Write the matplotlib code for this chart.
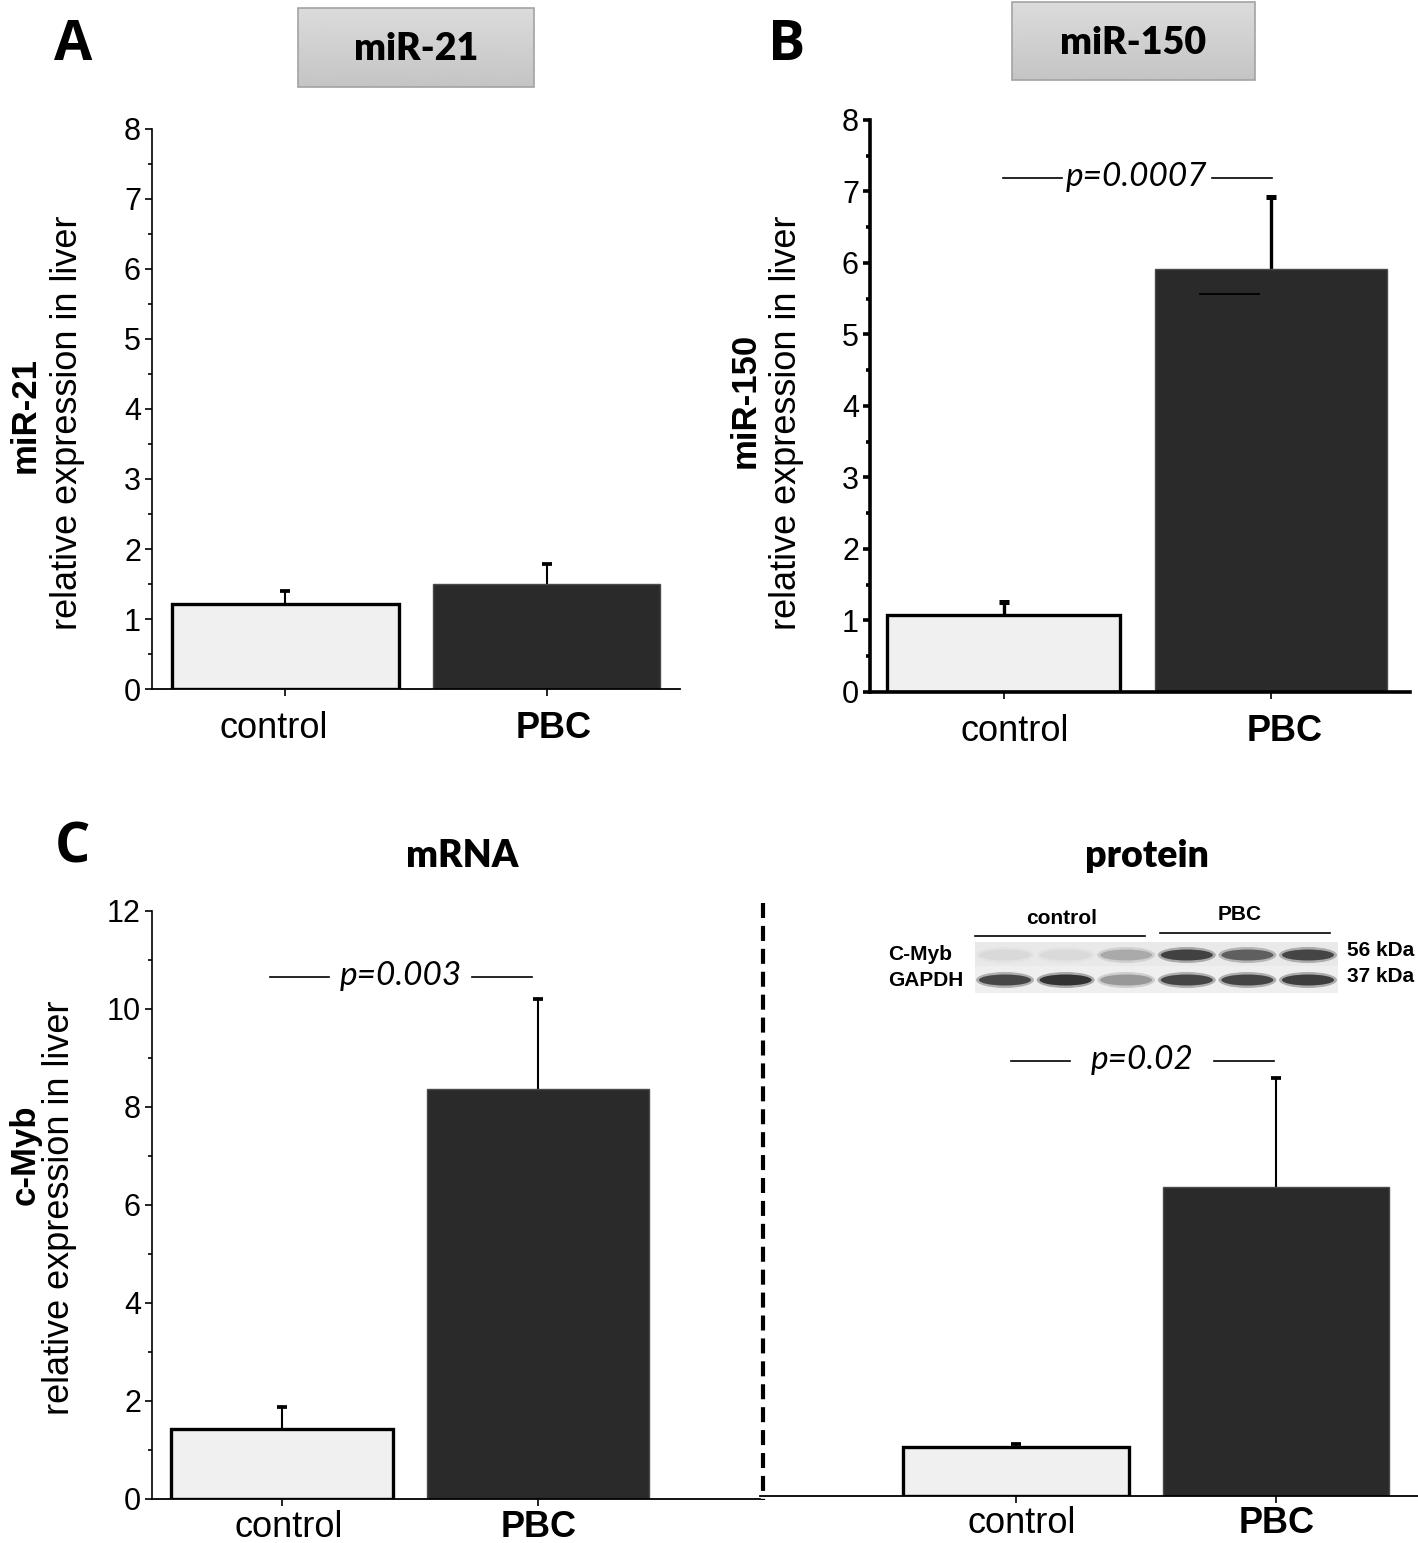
import numpy as np
import matplotlib.pyplot as plt
from matplotlib.patches import Rectangle, Ellipse
from matplotlib.ticker import MultipleLocator
from matplotlib.transforms import ScaledTranslation

W, H = 1418, 1543

groups = ['control', 'PBC']

mir21_mean = [1.21, 1.50]
mir21_err = [0.19, 0.29]

mir150_mean = [1.08, 5.92]
mir150_err = [0.18, 1.00]
mir150_low = 5.57  # short lower whisker drawn inside the PBC bar

myb_mrna_mean = [1.43, 8.37]
myb_mrna_err = [0.45, 1.83]

myb_prot_mean = [1.00, 6.31]
myb_prot_err = [0.07, 2.23]

p_labels = ['p=0.0007', 'p=0.003', 'p=0.02']

# western blot band darkness, 3 control lanes then 3 PBC lanes
cmyb_bands = [0.07, 0.06, 0.32, 0.88, 0.72, 0.86]
gapdh_bands = [0.85, 0.97, 0.42, 0.86, 0.86, 0.9]

light = '#f0f0f0'
dark = '#2a2a2a'
tick_font = 'Liberation Sans'
cal_font = 'Lato'

plt.rcParams['font.family'] = tick_font

fig = plt.figure(figsize=(W / 100, H / 100), dpi=100)


def px_axes(l, r, t, b):
    return fig.add_axes([l / W, 1 - b / H, (r - l) / W, (b - t) / H])


def bar_panel(box, means, errs, xlim, ylim, major, minor, lw, left=True, elw=1.5, xpad=11, shift=(0, 0)):
    ax = px_axes(*box)
    x = np.arange(len(groups))
    tops = np.array(means) + np.array(errs)
    ax.bar(x, means, width=0.87, color=[light, dark],
           edgecolor=['black', '#4a4a4a'], linewidth=[2.4, 1.0], zorder=2)
    ax.vlines(x, means, tops, color='black', lw=elw, zorder=1)
    ax.plot(x, tops, ls='none', marker='_', ms=7, mew=elw + 1.2, color='black', zorder=1)
    ax.set_xlim(*xlim)
    ax.set_ylim(*ylim)
    ax.set_facecolor('none')
    for s in ['top', 'right']:
        ax.spines[s].set_visible(False)
    ax.spines['bottom'].set_linewidth(1.3)
    ax.spines['left'].set_linewidth(lw)
    ax.set_xticks(x, groups)
    ax.tick_params(axis='x', length=5, width=1.2, pad=xpad, labelsize=26)
    labs = ax.get_xticklabels()
    labs[1].set_fontweight('bold')
    for lab, dx in zip(labs, shift):
        lab.set_transform(lab.get_transform() + ScaledTranslation(dx / 100, 0, fig.dpi_scale_trans))
    if left:
        ax.yaxis.set_major_locator(MultipleLocator(major))
        ax.yaxis.set_minor_locator(MultipleLocator(minor))
        ax.tick_params(axis='y', which='major', length=5, width=lw, pad=3, labelsize=22)
        ax.tick_params(axis='y', which='minor', length=3, width=lw)
    else:
        ax.spines['left'].set_visible(False)
        ax.set_yticks([])
    return ax


axA = bar_panel((152, 680, 129, 689), mir21_mean, mir21_err, (-0.51, 1.51), (0, 8), 1, 0.5, 1.2,
                shift=(-12, 7))
axB = bar_panel((870, 1410, 120, 692), mir150_mean, mir150_err, (-0.50, 1.52), (0, 8), 1, 0.5, 2.6,
                elw=2.4, shift=(11, 14))
axB.spines['bottom'].set_linewidth(2.6)
axB.hlines(mir150_low, 1 - 0.27, 1 - 0.04, color='black', lw=1.3, zorder=3)
axC = bar_panel((152, 760, 911, 1499), myb_mrna_mean, myb_mrna_err, (-0.51, 1.87), (0, 12), 2, 1, 1.2,
                xpad=3, shift=(6, 1))
axD = bar_panel((760, 1418, 908, 1496), myb_prot_mean, myb_prot_err, (-0.985, 1.546), (0, 12), 2, 1, 1.2,
                left=False, xpad=2, shift=(6, 1))

# overlay in pixel coordinates for labels and decorations
ov = fig.add_axes([0, 0, 1, 1])
ov.set_facecolor('none')
ov.axis('off')

# title boxes
for (l, r, t, b), txt in [((298, 534, 8, 87), 'miR-21'), ((1012, 1255, 2, 80), 'miR-150')]:
    ov.imshow(np.linspace(0.86, 0.77, 60)[:, None], cmap='gray', vmin=0, vmax=1,
              extent=(l, r, b, t), aspect='auto', zorder=1)
    ov.add_patch(Rectangle((l, t), r - l, b - t, fill=False, ec='#a3a3a3', lw=1.2, zorder=2))
    ov.text((l + r) / 2, (t + b) / 2 + 2, txt, ha='center', va='center', fontsize=27,
            fontweight='heavy', family=cal_font, zorder=3)

ov.set_xlim(0, W)
ov.set_ylim(H, 0)

# panel letters
for x, y, s in [(73, 45, 'A'), (787, 45, 'B'), (72, 848, 'C')]:
    ov.text(x, y, s, ha='center', va='center', fontsize=40, fontweight='bold', family='Open Sans')

ov.text(462, 856, 'mRNA', ha='center', va='center', fontsize=27, fontweight='heavy', family=cal_font)
ov.text(1147, 856, 'protein', ha='center', va='center', fontsize=27, fontweight='heavy', family=cal_font)

# y labels
for xb, yb, name in [(25, 415, 'miR-21'), (745, 400, 'miR-150'), (25, 1155, 'c-Myb')]:
    ov.text(xb, yb, name, rotation=90, ha='center', va='center', fontsize=25, fontweight='bold')
for xr, y in zip([68, 787, 60], [423, 423, 1208]):
    ov.text(xr, y, 'relative expression in liver', rotation=90, ha='center', va='center', fontsize=26)

# p-value annotations
for (x1, x2, x3, x4, y), p in zip([(1003, 1062, 1212, 1272, 178), (270, 329, 472, 532, 977),
                                   (1011, 1070, 1214, 1274, 1061)], p_labels):
    ov.plot([x1, x2], [y, y], color='black', lw=1.2)
    ov.plot([x3, x4], [y, y], color='black', lw=1.2)
    ov.text((x2 + x3) / 2, y - 1, p, ha='center', va='center', fontsize=24, style='italic', family=cal_font)

# dashed separator
ov.plot([763, 763], [903, 1500], color='black', lw=3, dashes=(3.6, 1.9))

# western blot inset
bl, br = 975, 1338
ov.add_patch(Rectangle((bl, 942), br - bl, 24, fc='#e9e9e9', ec='none'))
ov.add_patch(Rectangle((bl, 966), br - bl, 27, fc='#efefef', ec='none'))
lanes = np.linspace(bl + 30, br - 30, 6)
for cx, d1, d2 in zip(lanes, cmyb_bands, gapdh_bands):
    g1 = 0.9 - 0.78 * d1
    g2 = 0.9 - 0.78 * d2
    ov.add_patch(Ellipse((cx, 955), 58, 16, fc=str(g1), ec='none', alpha=0.35))
    ov.add_patch(Ellipse((cx, 955), 52, 11, fc=str(g1), ec='none', alpha=0.9))
    ov.add_patch(Ellipse((cx, 980), 58, 16, fc=str(g2), ec='none', alpha=0.35))
    ov.add_patch(Ellipse((cx, 980), 52, 11, fc=str(g2), ec='none', alpha=0.9))
ov.plot([975, 1145], [936, 936], color='black', lw=1.2)
ov.plot([1160, 1330], [933, 933], color='black', lw=1.2)
ov.text(1062, 919, 'control', ha='center', va='center', fontsize=15, fontweight='bold')
ov.text(1240, 915, 'PBC', ha='center', va='center', fontsize=15, fontweight='bold')
ov.text(888, 954, 'C-Myb', ha='left', va='center', fontsize=15, fontweight='bold')
ov.text(888, 980, 'GAPDH', ha='left', va='center', fontsize=15, fontweight='bold')
ov.text(1347, 951, '56 kDa', ha='left', va='center', fontsize=15, fontweight='bold')
ov.text(1347, 977, '37 kDa', ha='left', va='center', fontsize=15, fontweight='bold')

fig.savefig('out.png', dpi=100)
